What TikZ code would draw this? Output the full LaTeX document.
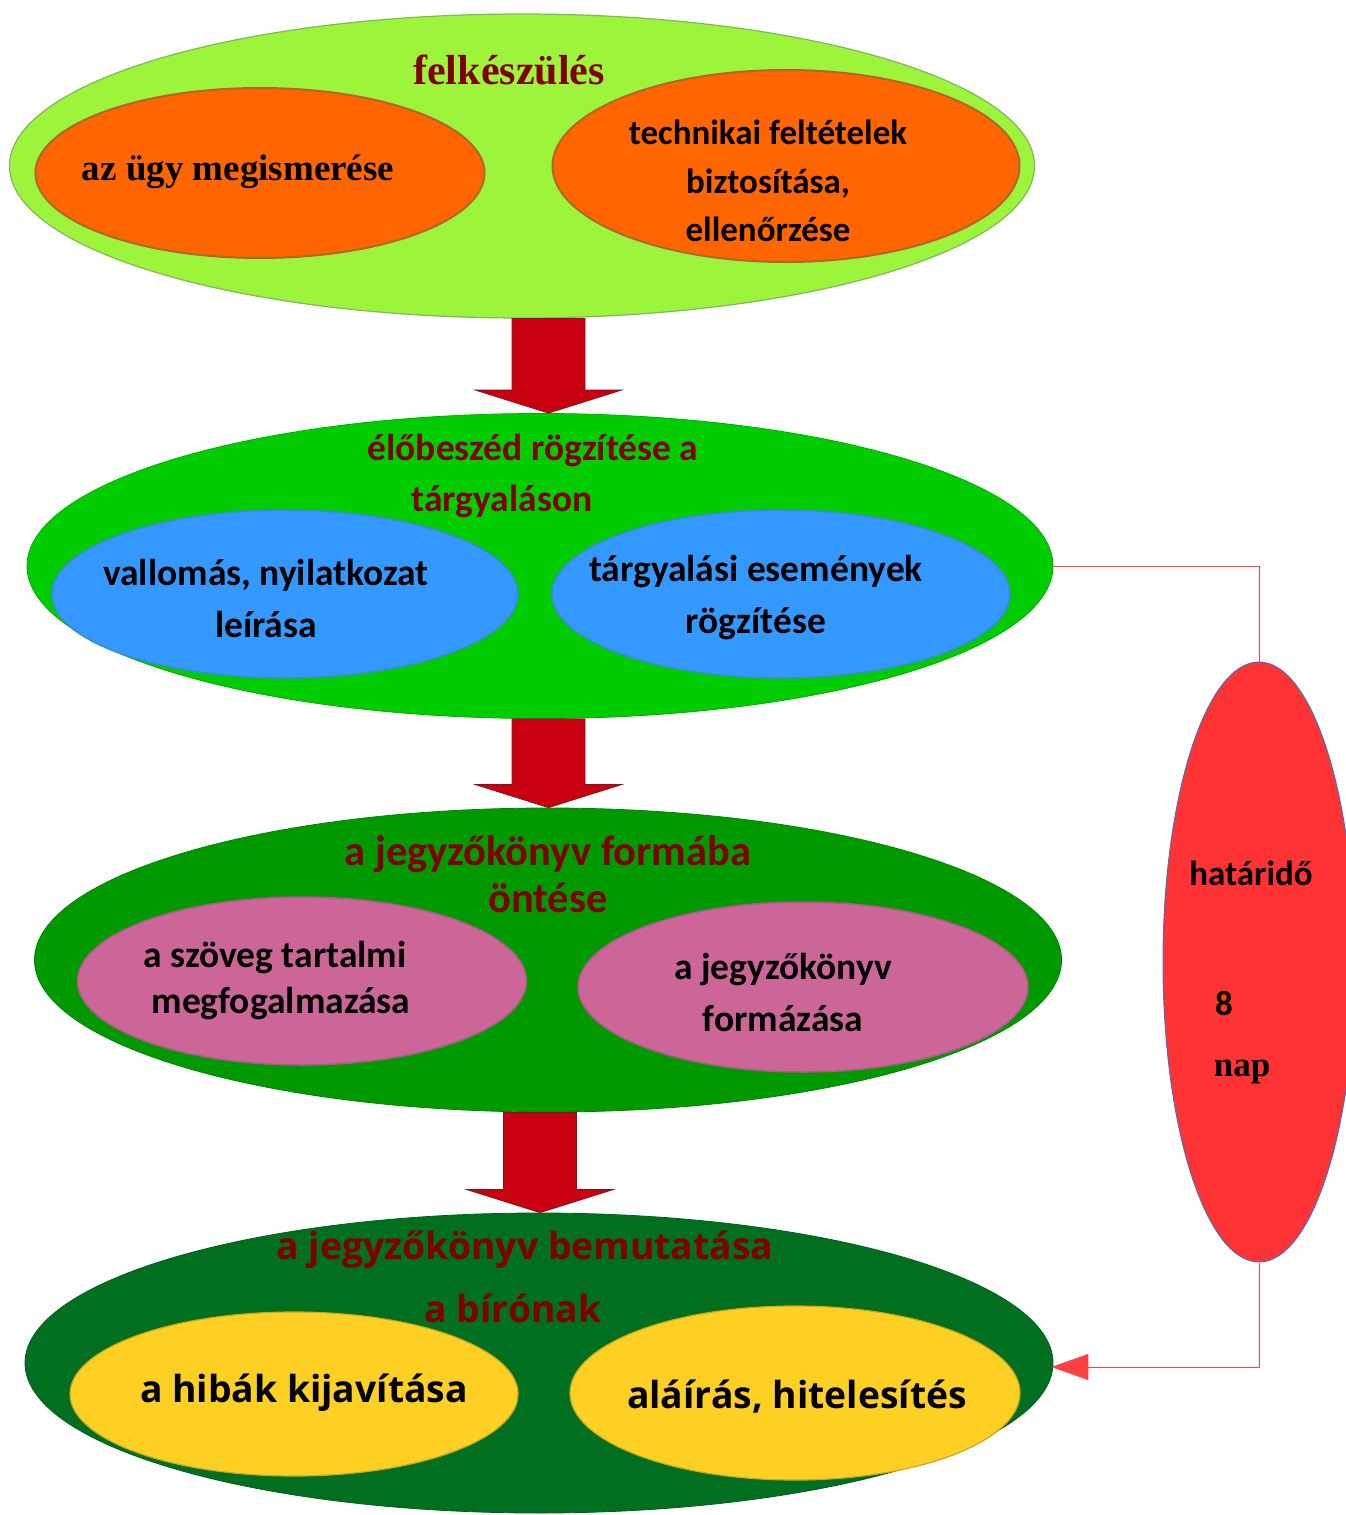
\documentclass[tikz,border=0pt]{standalone}
\usepackage{fontspec}
\setmainfont{Liberation Serif}
\newfontfamily\calfont{Carlito}
\newfontfamily\opfont{Open Sans}
\usetikzlibrary{shapes.geometric,arrows.meta,calc}

\definecolor{lime}{HTML}{9CF53A}
\definecolor{limeedge}{HTML}{7FB85A}
\definecolor{orng}{HTML}{FF6600}
\definecolor{orngedge}{HTML}{B0652E}
\definecolor{grn}{HTML}{00CC00}
\definecolor{blu}{HTML}{3399FF}
\definecolor{bluedge}{HTML}{3A8AD0}
\definecolor{midgrn}{HTML}{009A00}
\definecolor{pnk}{HTML}{CC6699}
\definecolor{pnkedge}{HTML}{A85C86}
\definecolor{dkgrn}{HTML}{007020}
\definecolor{yel}{HTML}{FFD024}
\definecolor{maroon}{HTML}{800000}
\definecolor{arrowred}{HTML}{C80010}
\definecolor{arrowedge}{HTML}{8A1020}
\definecolor{flagred}{HTML}{FF3333}
\definecolor{flagedge}{HTML}{4A6FB8}
\definecolor{linkred}{HTML}{FF4040}

\begin{document}
\begin{tikzpicture}[x=1pt,y=-1pt,
  oval/.style={ellipse, inner sep=0pt, line width=1.2pt},
  title/.style={text=maroon, inner sep=0pt},
  lbl/.style={text=black, inner sep=0pt, align=center},
  blockarrow/.style={fill=arrowred, draw=arrowedge, line width=0.8pt, line join=miter},
  link/.style={draw=linkred, line width=1pt}
]
\useasboundingbox (0,0) rectangle (1346,1515);
\fill[white] (0,0) rectangle (1346,1515);

% ---- stage 1: preparation
\node[oval, fill=lime, draw=limeedge, minimum width=1025pt, minimum height=304pt] (prep) at (522,166) {};
\node[oval, fill=orng, draw=orngedge, line width=2pt, minimum width=449pt, minimum height=170pt] (prepA) at (260,173) {};
\node[oval, fill=orng, draw=orngedge, line width=2pt, minimum width=467pt, minimum height=192pt] (prepB) at (786,166) {};
\node[title, font=\fontsize{42}{42}\selectfont\bfseries] (prepT) at (509,70) {felkészülés};
\node[lbl, font=\fontsize{37}{37}\selectfont\bfseries] (prepAT) at (238,172) {az ügy megismerése};
\node[lbl, font=\calfont\fontsize{35}{48.5}\selectfont\bfseries] (prepBT) at (768,181) {technikai feltételek\\biztosítása,\\ellenőrzése};

% ---- stage 2: recording at the hearing
\node[oval, fill=grn, draw=grn!85!black, line width=0.8pt, minimum width=1026pt, minimum height=305pt] (rec) at (540,566) {};
\node[oval, fill=blu, draw=bluedge, line width=1.5pt, minimum width=466pt, minimum height=168pt] (recA) at (285,594) {};
\node[oval, fill=blu, draw=bluedge, line width=1.5pt, minimum width=458pt, minimum height=168pt] (recB) at (781,594) {};
\node[title, font=\calfont\fontsize{37.5}{37.5}\selectfont\bfseries] (recT1) at (533,451) {élőbeszéd rögzítése a};
\node[title, font=\calfont\fontsize{37.5}{37.5}\selectfont\bfseries] (recT2) at (502,502) {tárgyaláson};
\node[lbl, font=\calfont\fontsize{37.5}{52}\selectfont\bfseries] (recAT) at (266,598) {vallomás, nyilatkozat\\leírása};
\node[lbl, font=\calfont\fontsize{37.5}{52}\selectfont\bfseries] (recBT) at (756,598) {tárgyalási események\\rögzítése};

% ---- stage 3: drafting the minutes
\node[oval, fill=midgrn, draw=midgrn!85!black, line width=0.8pt, minimum width=1027pt, minimum height=304pt] (form) at (548,960) {};
\node[oval, fill=pnk, draw=pnkedge, line width=1.5pt, minimum width=449pt, minimum height=168pt] (formA) at (302,981) {};
\node[oval, fill=pnk, draw=pnkedge, line width=1.5pt, minimum width=450pt, minimum height=170pt] (formB) at (803,987) {};
\node[title, font=\calfont\fontsize{42.5}{47}\selectfont\bfseries, align=center] (formT) at (548,874) {a jegyzőkönyv formába\\öntése};
\node[lbl, font=\calfont\fontsize{37.5}{46}\selectfont\bfseries] (formAT1) at (275,958) {a szöveg tartalmi};
\node[lbl, font=\calfont\fontsize{37.5}{46}\selectfont\bfseries] (formAT2) at (281,1004) {megfogalmazása};
\node[lbl, font=\calfont\fontsize{37.5}{52}\selectfont\bfseries] (formBT) at (783,992) {a jegyzőkönyv\\formázása};

% ---- stage 4: presenting to the judge
\node[oval, fill=dkgrn, draw=dkgrn!85!black, line width=0.8pt, minimum width=1028pt, minimum height=300pt] (pres) at (539,1363) {};
\node[oval, fill=yel, draw=yel!80!black, line width=1.2pt, minimum width=448pt, minimum height=164pt] (presA) at (294,1394) {};
\node[oval, fill=yel, draw=yel!80!black, line width=1.2pt, minimum width=450pt, minimum height=174pt] (presB) at (795,1393) {};
\node[title, font=\opfont\fontsize{37.3}{37.3}\selectfont\bfseries] (presT1) at (525,1250) {a jegyzőkönyv bemutatása};
\node[title, font=\opfont\fontsize{37.3}{37.3}\selectfont\bfseries] (presT2) at (513,1308) {a bírónak};
\node[lbl, font=\opfont\fontsize{37.3}{37.3}\selectfont\bfseries] (presAT) at (304,1393) {a hibák kijavítása};
\node[lbl, font=\opfont\fontsize{37.3}{37.3}\selectfont\bfseries] (presBT) at (797,1397) {aláírás, hitelesítés};

% ---- deadline
\node[oval, fill=flagred, draw=flagedge, line width=1pt, minimum width=192pt, minimum height=600pt] (due) at (1259,962) {};
\node[lbl, font=\calfont\fontsize{35}{35}\selectfont\bfseries] (dueT) at (1251,873) {határidő};
\node[lbl, font=\calfont\fontsize{35}{35}\selectfont\bfseries] (dueN) at (1224,1004) {8};
\node[lbl, font=\fontsize{35}{35}\selectfont\bfseries] (dueU) at (1242,1072) {nap};

% ---- block arrows between the stages
\foreach \a/\b/\ax in {prep/rec/548.5, rec/form/548.5, form/pres/540}{
  \coordinate (top) at (\a.south -| \ax,0);
  \coordinate (tip) at (\b.north -| \ax,0);
  \path[blockarrow] ($(top)+(-36.5,0)$) -- ($(top)+(36.5,0)$) -- ($(tip)+(36.5,-23)$)
      -- ($(tip)+(73,-23)$) -- (tip) -- ($(tip)+(-73,-23)$) -- ($(tip)+(-36.5,-23)$) -- cycle;
}

% ---- deadline connectors
\coordinate (c1) at (due.north |- rec.east);
\coordinate (c2) at (due.south |- 0,1367);
\coordinate (c3) at (pres.east |- 0,1367);
\draw[link] (rec.east) -- (c1) -- (due.north);
\draw[link, -{Triangle[length=37pt,width=26pt]}, shorten >=-2pt] (due.south) -- (c2) -- (c3);
\end{tikzpicture}
\end{document}
